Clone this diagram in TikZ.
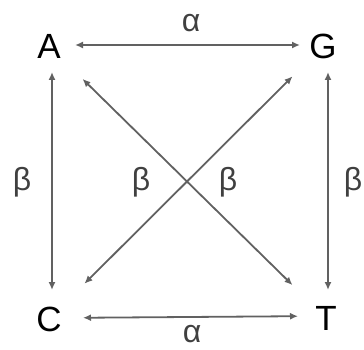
\documentclass[tikz,border=0pt]{standalone}
\usepackage{fontspec}
\setmainfont{Liberation Sans}
\usetikzlibrary{arrows.meta}
\begin{document}
\begin{tikzpicture}[x=1pt,y=-1pt,
  lbl/.style={inner sep=0pt,font=\fontsize{35}{35}\selectfont},
  glbl/.style={inner sep=0pt,font=\fontsize{32}{32}\selectfont, text=black!75},
  conn/.style={draw=black!62,line width=1.8pt,{Latex[length=8pt,width=7pt]}-{Latex[length=8pt,width=7pt]}}]
\useasboundingbox (0,0) rectangle (364,350);
\node[lbl] (A) at (49,46) {A};
\node[lbl] (G) at (323,46) {G};
\node[lbl] (C) at (49,319) {C};
\node[lbl] (T) at (326,318) {T};
\node[glbl] (a1) at (191,23) {α};
\node[glbl] (a2) at (192,334) {α};
\node[glbl] (b1) at (22,182) {β};
\node[glbl] (b2) at (141,182) {β};
\node[glbl] (b3) at (228,182) {β};
\node[glbl] (b4) at (353,182) {β};
\draw[conn,shorten <=26pt,shorten >=23pt] ([yshift=1pt]A.center) -- ([yshift=1pt]G.center);
\draw[conn,shorten <=34pt,shorten >=28pt] ([yshift=1pt]C.center) -- ([yshift=2pt]T.center);
\draw[conn,shorten <=26pt,shorten >=29pt] ([xshift=3pt]A.center) -- ([xshift=3pt]C.center);
\draw[conn,shorten <=26pt,shorten >=28pt] ([xshift=5pt]G.center) -- ([xshift=2pt]T.center);
\draw[conn,shorten <=47pt,shorten >=47pt] (A.center) -- (T.center);
\draw[conn,shorten <=43pt,shorten >=50pt] (G.center) -- (C.center);
\end{tikzpicture}
\end{document}
